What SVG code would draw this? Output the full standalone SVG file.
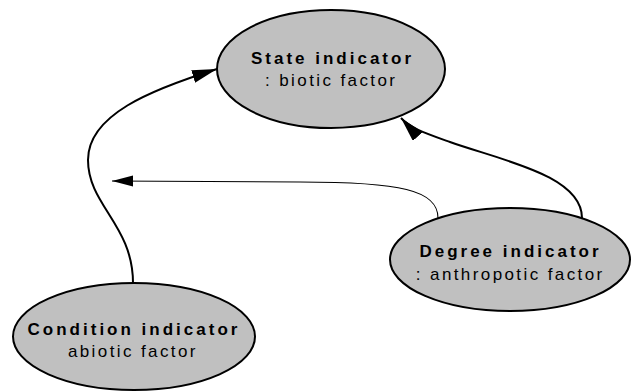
<svg xmlns="http://www.w3.org/2000/svg" width="636" height="392" viewBox="0 0 636 392">
<defs>
<style>
.node ellipse{fill:#c0c0c0;stroke:#000;stroke-width:2}
.t{font-family:"Liberation Sans",Arial,sans-serif;font-size:17px;fill:#000;text-anchor:middle}
.b{font-weight:bold;letter-spacing:3px}
.r{letter-spacing:2.4px}
.edge{fill:none;stroke:#000}
.thick{stroke-width:2;marker-end:url(#ah)}
.thin{stroke-width:1.1;marker-end:url(#ahs)}
</style>
<marker id="ah" markerUnits="userSpaceOnUse" markerWidth="26" markerHeight="14" refX="25" refY="6.5" orient="auto">
<path d="M0,0 L25,6.5 L0,13 z" fill="#000"/>
</marker>
<marker id="ahs" markerUnits="userSpaceOnUse" markerWidth="22" markerHeight="12" refX="21" refY="5.5" orient="auto">
<path d="M0,0 L21,5.5 L0,11 z" fill="#000"/>
</marker>
</defs>
<rect width="636" height="392" fill="#fff"/>
<g id="connectors">
<path class="edge thick" d="M133,283 C133,225 88,205 88,160 C88,115 150,90 217,69"/>
<path class="edge thick" d="M582,218 C582,175 500,160 450,142 C425,133 410,128 401,118"/>
<path class="edge thin" d="M438,218 C438,190 400,182 300,182 L112,181"/>
</g>
<g id="state" class="node">
<ellipse cx="331" cy="69" rx="114" ry="59"/>
<text class="t b" x="332.5" y="63.5">State indicator</text>
<text class="t r" x="331.2" y="86">: biotic factor</text>
</g>
<g id="degree" class="node">
<ellipse cx="510" cy="259.5" rx="120" ry="51.5"/>
<text class="t b" x="510.5" y="256.7">Degree indicator</text>
<text class="t r" x="510.2" y="280">: anthropotic factor</text>
</g>
<g id="condition" class="node">
<ellipse cx="134" cy="336.5" rx="121" ry="53.5"/>
<text class="t b" x="134" y="335">Condition indicator</text>
<text class="t r" x="132.9" y="356.7">abiotic factor</text>
</g>
</svg>
